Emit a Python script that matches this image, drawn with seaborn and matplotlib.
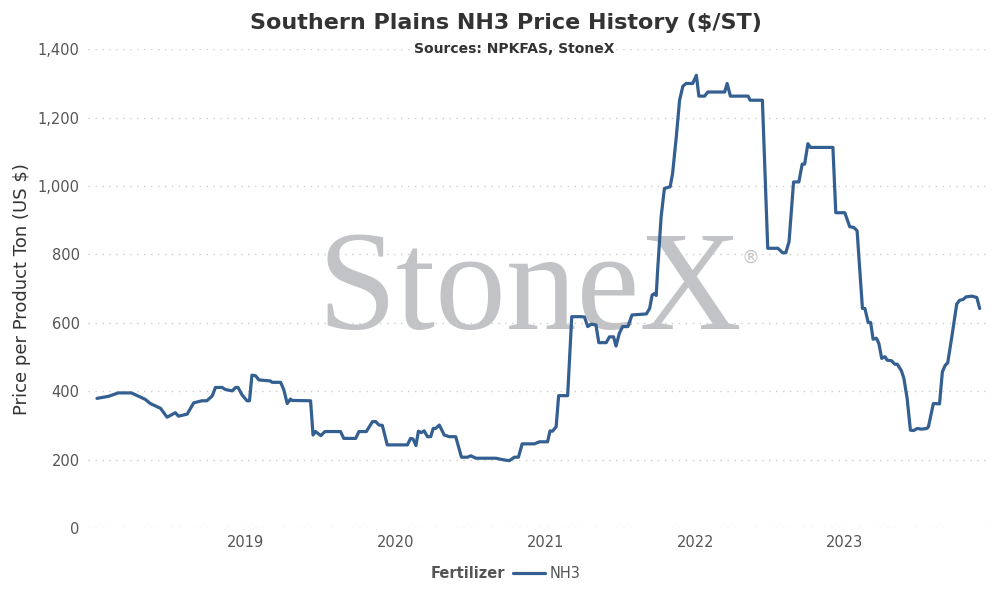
import pandas as pd
import seaborn as sns
import matplotlib.pyplot as plt
import matplotlib.dates as mdates

# weekly price points (break points of the line)
dates = [
    "2018-01-03", "2018-01-31", "2018-02-24", "2018-03-28", "2018-05-01", "2018-05-13",
    "2018-06-07", "2018-06-23", "2018-07-13", "2018-07-21", "2018-08-11", "2018-08-27",
    "2018-09-16", "2018-09-28", "2018-10-11", "2018-10-19", "2018-11-04", "2018-11-12",
    "2018-11-29", "2018-12-07", "2018-12-13", "2018-12-23", "2019-01-04", "2019-01-10",
    "2019-01-16", "2019-01-25", "2019-02-02", "2019-03-02", "2019-03-06", "2019-03-27",
    "2019-04-04", "2019-04-12", "2019-04-20", "2019-04-24", "2019-06-08", "2019-06-14",
    "2019-06-20", "2019-07-03", "2019-07-13", "2019-08-20", "2019-08-28", "2019-09-26",
    "2019-10-04", "2019-10-22", "2019-11-06", "2019-11-14", "2019-11-22", "2019-11-30",
    "2019-12-12", "2020-01-30", "2020-02-07", "2020-02-13", "2020-02-20", "2020-02-26",
    "2020-03-04", "2020-03-11", "2020-03-19", "2020-03-27", "2020-04-02", "2020-04-08",
    "2020-04-17", "2020-04-29", "2020-05-11", "2020-05-27", "2020-06-10", "2020-06-25",
    "2020-07-03", "2020-07-15", "2020-09-02", "2020-09-22", "2020-10-05", "2020-10-17",
    "2020-10-27", "2020-11-05", "2020-12-05", "2020-12-17", "2021-01-06", "2021-01-12",
    "2021-01-18", "2021-01-27", "2021-02-02", "2021-02-24", "2021-03-06", "2021-03-29",
    "2021-04-06", "2021-04-14", "2021-04-22", "2021-05-04", "2021-05-11", "2021-05-29",
    "2021-06-06", "2021-06-16", "2021-06-22", "2021-06-30", "2021-07-08", "2021-07-21",
    "2021-07-31", "2021-09-04", "2021-09-12", "2021-09-18", "2021-09-24", "2021-09-28",
    "2021-10-02", "2021-10-10", "2021-10-18", "2021-11-01", "2021-11-07", "2021-11-16",
    "2021-11-24", "2021-12-02", "2021-12-10", "2021-12-26", "2022-01-04", "2022-01-10",
    "2022-01-24", "2022-02-01", "2022-03-14", "2022-03-20", "2022-03-28", "2022-05-10",
    "2022-05-15", "2022-06-14", "2022-06-27", "2022-07-22", "2022-08-02", "2022-08-10",
    "2022-08-18", "2022-08-29", "2022-09-11", "2022-09-19", "2022-09-25", "2022-10-03",
    "2022-10-09", "2022-12-03", "2022-12-10", "2023-01-01", "2023-01-13", "2023-01-23",
    "2023-01-31", "2023-02-13", "2023-02-19", "2023-02-27", "2023-03-05", "2023-03-11",
    "2023-03-19", "2023-03-25", "2023-04-01", "2023-04-09", "2023-04-14", "2023-04-25",
    "2023-05-03", "2023-05-09", "2023-05-19", "2023-05-25", "2023-06-02", "2023-06-10",
    "2023-06-18", "2023-06-27", "2023-07-07", "2023-07-20", "2023-07-24", "2023-08-05",
    "2023-08-20", "2023-08-27", "2023-09-03", "2023-09-09", "2023-09-19", "2023-09-25",
    "2023-10-01", "2023-10-08", "2023-10-16", "2023-10-24", "2023-11-07", "2023-11-19",
    "2023-11-26",
]
prices = [
    379, 385, 395, 395, 376, 364,
    350, 324, 337, 327, 333, 366,
    372, 372, 386, 411, 411, 405,
    401, 411, 411, 389, 372, 372,
    447, 445, 433, 430, 426, 426,
    403, 364, 377, 373, 372, 272,
    282, 270, 282, 282, 262, 262,
    282, 282, 311, 311, 301, 300,
    243, 243, 262, 260, 241, 283,
    279, 284, 267, 267, 291, 291,
    301, 272, 267, 267, 207, 207,
    211, 204, 204, 199, 197, 207,
    207, 246, 246, 252, 252, 284,
    283, 296, 387, 387, 618, 618,
    617, 589, 596, 594, 542, 542,
    559, 559, 532, 569, 589, 589,
    623, 626, 642, 681, 686, 680,
    764, 910, 993, 998, 1037, 1144,
    1251, 1292, 1300, 1300, 1324, 1263,
    1263, 1275, 1275, 1300, 1263, 1263,
    1251, 1251, 818, 818, 805, 805,
    837, 1012, 1012, 1064, 1064, 1124,
    1113, 1113, 922, 922, 881, 879,
    869, 642, 642, 601, 601, 552,
    555, 540, 496, 501, 491, 489,
    479, 479, 460, 438, 379, 286,
    285, 291, 289, 291, 296, 364,
    363, 457, 476, 483, 559, 608,
    655, 666, 668, 676, 678, 674,
    642,
]
series = "NH3"
year_ticks = ["2019-01-01", "2020-01-01", "2021-01-01", "2022-01-01", "2023-01-01"]

df = pd.DataFrame({"Date": pd.to_datetime(dates), "Price": prices})
df["Fertilizer"] = series

sns.set_style("white")
plt.rcParams["font.family"] = ["DejaVu Sans"]

line_color = "#335f91"
text_gray = "#555555"

fig = plt.figure(figsize=(10.04, 6.01), dpi=100)
ax = fig.add_axes([0.0876, 0.1215, 0.8984, 0.7965])

# watermark
ax.text(0.49, 0.487, "StoneX", transform=ax.transAxes, ha="center", va="center",
        fontsize=102, family="Liberation Serif", color="#c2c3c6", zorder=0)
ax.text(0.735, 0.565, "®", transform=ax.transAxes, ha="center", va="center",
        fontsize=13, color="#c2c3c6", zorder=0)

sns.lineplot(data=df, x="Date", y="Price", hue="Fertilizer", palette=[line_color],
             linewidth=2.3, ax=ax, legend=False, zorder=3)

ax.set_ylim(0, 1400)
ax.set_xlim(pd.Timestamp("2017-12-12"), pd.Timestamp("2023-12-21"))
ax.set_yticks(range(0, 1401, 200))
ax.yaxis.set_major_formatter(plt.FuncFormatter(lambda v, p: f"{int(v):,}"))
ax.set_xticks(pd.to_datetime(year_ticks))
ax.xaxis.set_major_formatter(mdates.DateFormatter("%Y"))
ax.grid(axis="y", color="#cccccc", linestyle=(0, (1, 4)), linewidth=1)
ax.grid(axis="x", visible=False)
for s in ax.spines.values():
    s.set_visible(False)
ax.tick_params(axis="both", length=0, labelsize=10.5, labelcolor=text_gray)
ax.tick_params(axis="x", pad=5)
ax.tick_params(axis="y", pad=6)
ax.set_xlabel("")
ax.set_ylabel("Price per Product Ton (US $)", fontsize=13, color="#333333", labelpad=5)

fig.text(0.504, 0.962, "Southern Plains NH3 Price History ($/ST)", ha="center", va="center",
         fontsize=16, fontweight="bold", color="#333333")
fig.text(0.512, 0.918, "Sources: NPKFAS, StoneX", ha="center", va="center",
         fontsize=10, fontweight="bold", color="#333333")

# legend: bold title on the left, one line entry
fig.text(0.503, 0.046, "Fertilizer", ha="right", va="center", fontsize=10.5,
         fontweight="bold", color=text_gray)
handle = plt.Line2D([], [], color=line_color, linewidth=2.3)
fig.legend([handle], [series], loc="center left", bbox_to_anchor=(0.498, 0.046),
           frameon=False, fontsize=10.5, handlelength=2.2, handletextpad=0.3,
           labelcolor=text_gray)

fig.savefig("out.png", dpi=100)
